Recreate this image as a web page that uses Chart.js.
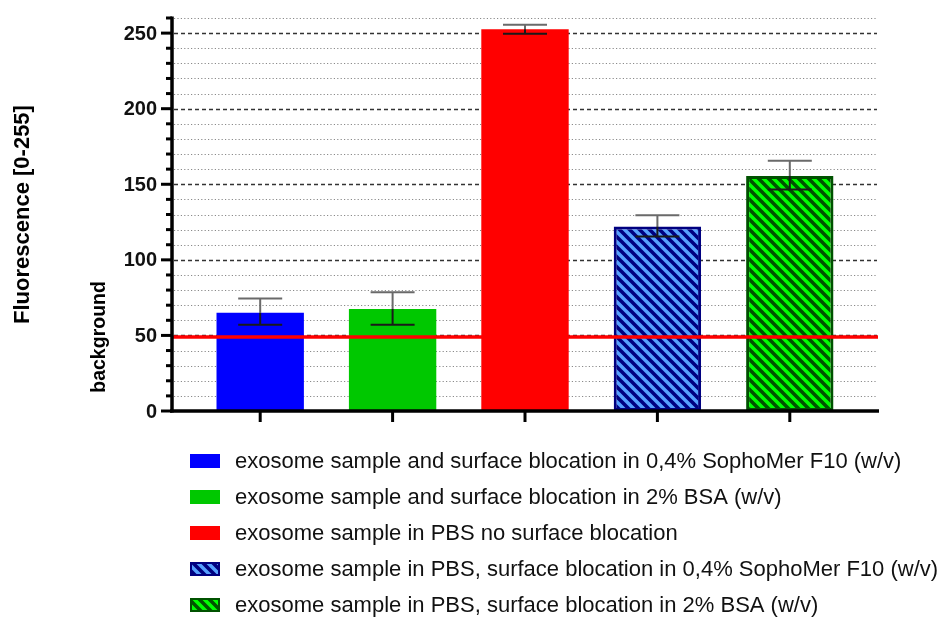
<!DOCTYPE html>
<html><head><meta charset="utf-8">
<script src="https://cdn.jsdelivr.net/npm/chart.js@4.4.0/dist/chart.umd.min.js"></script>
<style>html,body{margin:0;padding:0;background:#fff;overflow:hidden}</style>
</head><body>
<canvas id="c" width="939" height="617"></canvas>
<script>
// ---- data ----
const categories = ['1', '2', '3', '4', '5'];
const seriesNames = [
  'exosome sample and surface blocation in 0,4% SophoMer F10 (w/v)',
  'exosome sample and surface blocation in 2% BSA (w/v)',
  'exosome sample in PBS no surface blocation',
  'exosome sample in PBS, surface blocation in 0,4% SophoMer F10 (w/v)',
  'exosome sample in PBS, surface blocation in 2% BSA (w/v)'
];
const means = [65, 67.5, 252.5, 122, 155.5];
const errLow = [57, 57, 249.5, 115.5, 146.5];
const errHigh = [74.5, 78.5, 255.5, 129.5, 165.5];
const backgroundLevel = 49;
const yMin = 0, yMax = 260, majorStep = 50, minorStep = 10;
const yTitle = 'Fluorescence [0-255]';
const bgLabel = 'background';

// ---- styles ----
const FONT = "'Liberation Sans', Arial, sans-serif";
const canvas = document.getElementById('c');
const mainCtx = canvas.getContext('2d');
function hatch(bg, fg) {
  const c = document.createElement('canvas');
  c.width = 10; c.height = 10;
  const g = c.getContext('2d');
  g.fillStyle = bg; g.fillRect(0, 0, 10, 10);
  g.strokeStyle = fg; g.lineWidth = 3.6; g.lineCap = 'square';
  g.beginPath();
  for (let k = -1; k <= 1; k++) { g.moveTo(k * 10 - 3, -3); g.lineTo(k * 10 + 13, 13); }
  g.stroke();
  return mainCtx.createPattern(c, 'repeat');
}
const fills = ['#0000ff', '#00c800', '#ff0000', hatch('#55a0ff', '#000080'), hatch('#00ff00', '#005200')];
const borders = ['#0000ff', '#00c800', '#ff0000', '#000080', '#005200'];
const borderWidths = [0, 0, 0, 3, 3];
const legendFills = ['#0000ff', '#00c800', '#ff0000', hatch('#55a0ff', '#000080'), hatch('#00ff00', '#005200')];
const GAP = 22; // gap between axis line and first/last category slot
const AREA = { left: 172 + GAP, right: 878 - GAP, top: 18, bottom: 411 };

const datasets = seriesNames.map((name, i) => ({
  label: name,
  data: categories.map((_, j) => (j === i ? means[i] : null)),
  backgroundColor: fills[i],
  borderColor: borders[i],
  borderWidth: borderWidths[i],
  borderSkipped: false,
  grouped: false,
  barPercentage: 0.66,
  categoryPercentage: 1
}));

const decor = {
  id: 'decor',
  beforeDatasetsDraw(chart) {
    const ctx = chart.ctx, y = chart.scales.y, a = chart.chartArea;
    const L = a.left - GAP, R = a.right + GAP;
    ctx.save();
    for (let v = yMin + minorStep; v <= yMax; v += minorStep) {
      const py = Math.round(y.getPixelForValue(v)) + 0.5;
      ctx.beginPath();
      if (v % majorStep === 0) {
        ctx.setLineDash([4, 3]); ctx.strokeStyle = '#333'; ctx.lineWidth = 1.6;
      } else {
        ctx.setLineDash([1.2, 2.2]); ctx.strokeStyle = '#8a8a8a'; ctx.lineWidth = 1;
      }
      ctx.moveTo(L + 2, py); ctx.lineTo(R - 1, py); ctx.stroke();
    }
    ctx.restore();
  },
  afterDatasetsDraw(chart) {
    const ctx = chart.ctx, x = chart.scales.x, y = chart.scales.y, a = chart.chartArea;
    const L = a.left - GAP, R = a.right + GAP;
    ctx.save();
    // error bars
    categories.forEach((c, i) => {
      const px = x.getPixelForValue(i);
      const top = y.getPixelForValue(errHigh[i]);
      const bot = y.getPixelForValue(errLow[i]);
      const mid = y.getPixelForValue(means[i]);
      const hw = 22;
      ctx.lineWidth = 2;
      ctx.strokeStyle = '#6a6a6a';
      ctx.beginPath();
      ctx.moveTo(px - hw, top); ctx.lineTo(px + hw, top);
      ctx.moveTo(px, top); ctx.lineTo(px, mid);
      ctx.stroke();
      ctx.strokeStyle = '#1a1a1a';
      ctx.beginPath();
      ctx.moveTo(px, mid); ctx.lineTo(px, bot);
      ctx.moveTo(px - hw, bot); ctx.lineTo(px + hw, bot);
      ctx.stroke();
    });
    // background line
    const by = y.getPixelForValue(backgroundLevel);
    ctx.strokeStyle = '#ff0000'; ctx.lineWidth = 3.5;
    ctx.beginPath(); ctx.moveTo(L, by); ctx.lineTo(R, by); ctx.stroke();
    // axes
    ctx.strokeStyle = '#000'; ctx.lineWidth = 3.5;
    const y0 = y.getPixelForValue(yMin), yT = y.getPixelForValue(yMax);
    ctx.beginPath(); ctx.moveTo(L, yT - 1.5); ctx.lineTo(L, y0 + 1.5); ctx.stroke();
    ctx.beginPath(); ctx.moveTo(L - 2, y0); ctx.lineTo(R + 1, y0); ctx.stroke();
    // y ticks
    ctx.lineWidth = 3;
    for (let v = yMin; v <= yMax; v += minorStep) {
      const py = y.getPixelForValue(v);
      const len = v % majorStep === 0 ? 11 : 6;
      ctx.beginPath(); ctx.moveTo(L - len, py); ctx.lineTo(L, py); ctx.stroke();
    }
    // y tick labels
    ctx.fillStyle = '#111';
    ctx.font = 'bold 20px ' + FONT;
    ctx.textAlign = 'right'; ctx.textBaseline = 'middle';
    for (let v = yMin; v <= yMax; v += majorStep) {
      ctx.fillText(String(v), L - 15, y.getPixelForValue(v) + 1);
    }
    // x ticks
    categories.forEach((c, i) => {
      const px = x.getPixelForValue(i);
      ctx.beginPath(); ctx.moveTo(px, y0); ctx.lineTo(px, y0 + 11); ctx.stroke();
    });
    // titles
    ctx.fillStyle = '#000';
    ctx.textAlign = 'center'; ctx.textBaseline = 'middle';
    ctx.save();
    ctx.translate(23, (a.top + a.bottom) / 2); ctx.rotate(-Math.PI / 2);
    ctx.font = 'bold 22px ' + FONT; ctx.fillText(yTitle, 0, 0);
    ctx.restore();
    ctx.save();
    ctx.translate(100, by); ctx.rotate(-Math.PI / 2);
    ctx.font = 'bold 19.5px ' + FONT; ctx.fillText(bgLabel, 0, 0);
    ctx.restore();
    // legend
    const lx = 190, ly0 = a.bottom + 50, step = 36;
    ctx.textAlign = 'left';
    ctx.font = '22px ' + FONT;
    seriesNames.forEach((name, i) => {
      const cy = ly0 + i * step;
      ctx.fillStyle = legendFills[i];
      ctx.fillRect(lx, cy - 7, 30, 14);
      if (borderWidths[i]) {
        ctx.strokeStyle = borders[i]; ctx.lineWidth = 2;
        ctx.strokeRect(lx + 1, cy - 6, 28, 12);
      }
      ctx.fillStyle = '#111';
      ctx.fillText(name, 235, cy + 1);
    });
    ctx.restore();
  }
};

new Chart(canvas, {
  type: 'bar',
  data: { labels: categories, datasets },
  options: {
    responsive: false,
    animation: false,
    layout: { padding: { left: AREA.left, top: AREA.top, right: 939 - AREA.right, bottom: 617 - AREA.bottom } },
    plugins: { legend: { display: false }, tooltip: { enabled: false } },
    scales: {
      x: { display: false, offset: true },
      y: { display: false, min: yMin, max: yMax }
    }
  },
  plugins: [decor]
});
</script>
</body></html>
